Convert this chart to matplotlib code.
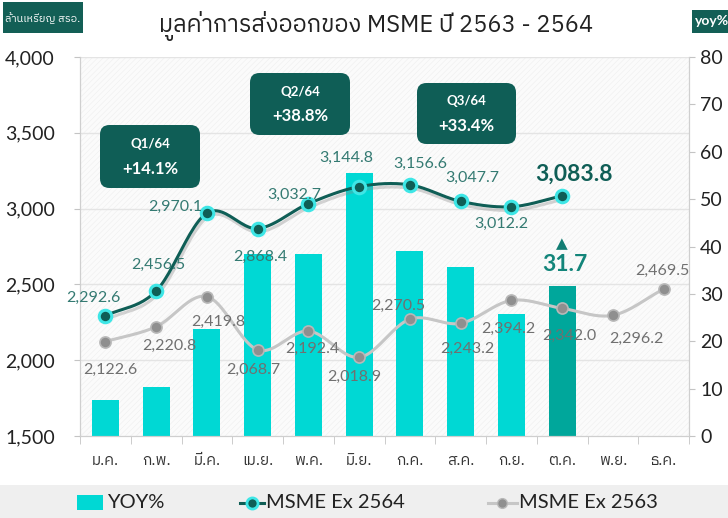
import numpy as np
import matplotlib
matplotlib.use("Agg")
import matplotlib.pyplot as plt
from matplotlib import font_manager as fm
from matplotlib.patches import Rectangle, FancyBboxPatch
from matplotlib.lines import Line2D
from matplotlib.transforms import blended_transform_factory
import matplotlib.patheffects as pe

# ---------------- data ----------------
months = ['ม.ค.', 'ก.พ.', 'มี.ค.', 'เม.ย.', 'พ.ค.', 'มิ.ย.',
          'ก.ค.', 'ส.ค.', 'ก.ย.', 'ต.ค.', 'พ.ย.', 'ธ.ค.']
yoy_pct = [7.7, 10.4, 22.6, 38.4, 38.4, 55.6, 39.0, 35.7, 25.7, 31.7]
msme_2564 = [2292.6, 2456.5, 2970.1, 2868.4, 3032.7, 3144.8,
             3156.6, 3047.7, 3012.2, 3083.8]
msme_2563 = [2122.6, 2220.8, 2419.8, 2068.7, 2192.4, 2018.9,
             2270.5, 2243.2, 2394.2, 2342.0, 2296.2, 2469.5]
quarters = ['Q1/64', 'Q2/64', 'Q3/64']
quarter_growth = ['+14.1%', '+38.8%', '+33.4%']
left_ticks = [1500, 2000, 2500, 3000, 3500, 4000]
right_ticks = [0, 10, 20, 30, 40, 50, 60, 70, 80]

title = 'มูลค่าการส่งออกของ MSME ปี 2563 - 2564'
left_unit = 'ล้านเหรียญ สรอ.'
right_unit = 'yoy%'
legend_labels = ['YOY%', 'MSME Ex 2564', 'MSME Ex 2563']

# ---------------- layout / style ----------------
W, H = 728, 518
# label offsets in pixels (dx, dy with dy positive = downwards)
off_2564 = [(-12, -18), (2, -26), (-32, -6), (3, 28), (-14, -9), (-13, -29),
            (10, -21), (12, -23), (-10, 17), (12, -22)]
off_2563 = [(5, 28), (13, 19), (11, 25), (-4, 20), (4, 18), (-5, 20),
            (-12, -13), (7, 26), (-3, 28), (7, 28), (24, 24), (-1, -18)]
# quarter boxes: (x0, y0, x1, y1) in pixels from top-left
qboxes = [(100, 125, 200, 188), (250, 73, 350, 135), (417, 83, 516, 144)]

C_CYAN = '#00D8D4'
C_TEAL = '#00A79B'
C_DARK = '#0F5E56'
C_GREY_LINE = '#c6c6c6'
C_GREY_MK = '#8f8f8f'


def find_thai_font():
    try:
        from fontTools.ttLib import TTFont
    except Exception:
        return None
    seen = set()
    pref = []
    for f in fm.fontManager.ttflist:
        if f.fname in seen:
            continue
        seen.add(f.fname)
        try:
            tt = TTFont(f.fname, fontNumber=0, lazy=True)
            cmap = tt.getBestCmap()
            if cmap and 0x0E21 in cmap and 0x0E35 in cmap:
                pref.append(f.name)
        except Exception:
            pass
    for p in pref:
        if 'Sans' in p:
            return p
    return pref[0] if pref else None


thai = find_thai_font()
NUM = ['Lato', 'DejaVu Sans']
THAI = ([thai] if thai else []) + ['DejaVu Sans']


def smooth(xs, ys, n=24):
    xs = np.asarray(xs, float)
    ys = np.asarray(ys, float)
    P = np.column_stack([xs, ys])
    P = np.vstack([P[0] - (P[1] - P[0]), P, P[-1] + (P[-1] - P[-2])])
    out = []
    t = np.linspace(0, 1, n, endpoint=False)[:, None]
    for i in range(1, len(P) - 2):
        p0, p1, p2, p3 = P[i - 1], P[i], P[i + 1], P[i + 2]
        seg = 0.5 * ((2 * p1) + (-p0 + p2) * t + (2 * p0 - 5 * p1 + 4 * p2 - p3) * t ** 2
                     + (-p0 + 3 * p1 - 3 * p2 + p3) * t ** 3)
        out.append(seg)
    out.append(P[-2][None, :])
    out = np.vstack(out)
    return out[:, 0], out[:, 1]


def px2fig(x, y):
    return x / W, 1 - y / H


fig = plt.figure(figsize=(W / 100, H / 100), dpi=100)
fig.patch.set_facecolor('white')

ax_l, ax_r, ax_t, ax_b = 80, 689, 57, 436
ax = fig.add_axes([ax_l / W, 1 - ax_b / H, (ax_r - ax_l) / W, (ax_b - ax_t) / H])
ax2 = ax.twinx()

x = np.arange(len(months))
xb = np.arange(len(yoy_pct))

# background hatch
ax.set_facecolor('#fbfbfb')
plt.rcParams['hatch.linewidth'] = 0.4
ax.add_patch(Rectangle((0, 0), 1, 1, transform=ax.transAxes, facecolor='none',
                       edgecolor='#efefef', hatch='//////', lw=0, zorder=0))

# gridlines (left-axis values) behind bars
trans = blended_transform_factory(ax.transAxes, ax2.transData)
for v in left_ticks[1:]:
    ax.add_line(Line2D([0, 1], [v, v], transform=trans, color='#e4e4e4', lw=1, zorder=0.5))

# bars
bar_colors = [C_CYAN] * (len(yoy_pct) - 1) + [C_TEAL]
ax.bar(xb, yoy_pct, width=0.53, color=bar_colors, zorder=1)
ax.set_ylim(0, 80)
ax.set_xlim(-0.5, len(months) - 0.5)
ax.yaxis.tick_right()
ax.set_yticks(right_ticks)
ax.set_yticklabels([str(v) for v in right_ticks])

# lines
sx, sy = smooth(x, msme_2563)
ax2.plot(sx, sy, color=C_GREY_LINE, lw=2.2, zorder=2, solid_capstyle='round')
ax2.plot(x, msme_2563, 'o', ms=8, mfc=C_GREY_MK, mec='#b8b8b8', mew=1.2, zorder=3)

sx, sy = smooth(xb, msme_2564)
ax2.plot(sx, sy, color=C_DARK, lw=2.2, zorder=4, solid_capstyle='round',
         path_effects=[pe.SimpleLineShadow(offset=(1, -2.5), shadow_color='#888888', alpha=0.35),
                       pe.Normal()])
ax2.plot(xb, msme_2564, 'o', ms=9, mfc=C_DARK, mec='#3EE6E6', mew=2.2, zorder=5)

ax2.set_ylim(1500, 4000)
ax2.yaxis.tick_left()
ax2.set_yticks(left_ticks)
ax2.set_yticklabels([f'{v:,}' for v in left_ticks])

# data labels
for i, v in enumerate(msme_2563):
    dx, dy = off_2563[i]
    ax2.annotate(f'{v:,.1f}', (x[i], v), xytext=(dx * 0.72, -dy * 0.72),
                 textcoords='offset points', ha='center', va='center',
                 fontsize=11.5, color='#707070', family=NUM, zorder=6)
for i, v in enumerate(msme_2564):
    dx, dy = off_2564[i]
    last = i == len(msme_2564) - 1
    ax2.annotate(f'{v:,.1f}', (xb[i], v), xytext=(dx * 0.72, -dy * 0.72),
                 textcoords='offset points', ha='center', va='center',
                 fontsize=16.5 if last else 11.5,
                 fontweight='bold' if last else 'normal',
                 color=C_DARK if last else '#347a72', family=NUM, zorder=6)

# last yoy highlight
ax.annotate('▲', (xb[-1], yoy_pct[-1]), xytext=(0, 30), textcoords='offset points',
            ha='center', va='center', fontsize=11, color='#127d73', family=['DejaVu Sans'], zorder=6)
ax.annotate(f'{yoy_pct[-1]:.1f}', (xb[-1], yoy_pct[-1]), xytext=(2, 15), textcoords='offset points',
            ha='center', va='center', fontsize=16.5, fontweight='bold', color='#13857a',
            family=NUM, zorder=6)

# axes styling
for a in (ax, ax2):
    for s in a.spines.values():
        s.set_color('#cfcfcf')
    a.spines['top'].set_visible(False)
ax.set_xticks(x)
ax.set_xticklabels(months, family=THAI, fontsize=11, color='#333333')
ax.set_xticks(np.arange(-0.5, len(months), 1), minor=True)
ax.tick_params(axis='x', which='major', length=0, pad=13)
ax.tick_params(axis='x', which='minor', length=6, color='#c4c4c4')
ax.tick_params(axis='y', length=4, color='#c4c4c4', labelsize=14, labelcolor='#222222', pad=4)
ax2.tick_params(axis='y', length=4, color='#c4c4c4', labelsize=14, labelcolor='#222222', pad=14)
for lab in ax.get_yticklabels() + ax2.get_yticklabels():
    lab.set_family(NUM)

# title & unit boxes
fig.text(*px2fig(376, 26), title, ha='center', va='center', fontsize=17,
         color='#222222', family=THAI)
fig.patches.append(Rectangle(px2fig(3, 33), 80 / W, 31 / H, transform=fig.transFigure,
                             facecolor='#135F56', edgecolor='none'))
fig.text(*px2fig(43, 18), left_unit, ha='center', va='center', fontsize=7.8,
         color='white', family=THAI)
fig.patches.append(Rectangle(px2fig(692, 33), 40 / W, 23 / H, transform=fig.transFigure,
                             facecolor='#135F56', edgecolor='none'))
fig.text(*px2fig(695, 21), right_unit, ha='left', va='center', fontsize=10,
         color='white', family=NUM, fontweight='bold')

# quarter boxes
for (x0, y0, x1, y1), q, g in zip(qboxes, quarters, quarter_growth):
    fx, fy = px2fig(x0, y1)
    fig.patches.append(FancyBboxPatch((fx, fy), (x1 - x0) / W, (y1 - y0) / H,
                                      boxstyle='round,pad=0,rounding_size=0.013',
                                      mutation_aspect=W / H, transform=fig.transFigure,
                                      facecolor='#0F5E56', edgecolor='none'))
    cx = (x0 + x1) / 2
    fig.text(*px2fig(cx, y0 + (y1 - y0) * 0.30), q, ha='center', va='center',
             fontsize=9.5, fontweight='bold', color='white', family=NUM)
    fig.text(*px2fig(cx, y0 + (y1 - y0) * 0.70), g, ha='center', va='center',
             fontsize=12, fontweight='bold', color='white', family=NUM)

# legend band
fig.patches.append(Rectangle((0, 0), 1, (H - 485) / H, transform=fig.transFigure,
                             facecolor='#efefef', edgecolor='none', zorder=0))
fig.patches.append(Rectangle(px2fig(77, 510), 26 / W, 15 / H, transform=fig.transFigure,
                             facecolor=C_CYAN, edgecolor='none'))
fig.text(*px2fig(107, 502), legend_labels[0], ha='left', va='center', fontsize=14.5,
         color='#222222', family=NUM)
fig.lines.append(Line2D([240 / W, 264 / W], [1 - 503 / H] * 2, transform=fig.transFigure,
                        color=C_DARK, lw=2.2))
fig.lines.append(Line2D([252 / W], [1 - 503 / H], transform=fig.transFigure, marker='o',
                        ms=8, mfc=C_DARK, mec='#3EE6E6', mew=2))
fig.text(*px2fig(266, 502), legend_labels[1], ha='left', va='center', fontsize=14.5,
         color='#222222', family=NUM)
fig.lines.append(Line2D([488 / W, 517 / W], [1 - 503 / H] * 2, transform=fig.transFigure,
                        color=C_GREY_LINE, lw=2.2))
fig.lines.append(Line2D([502 / W], [1 - 503 / H], transform=fig.transFigure, marker='o',
                        ms=7, mfc=C_GREY_MK, mec='#b8b8b8', mew=1))
fig.text(*px2fig(519, 502), legend_labels[2], ha='left', va='center', fontsize=14.5,
         color='#222222', family=NUM)

fig.savefig('out.png', dpi=100)
